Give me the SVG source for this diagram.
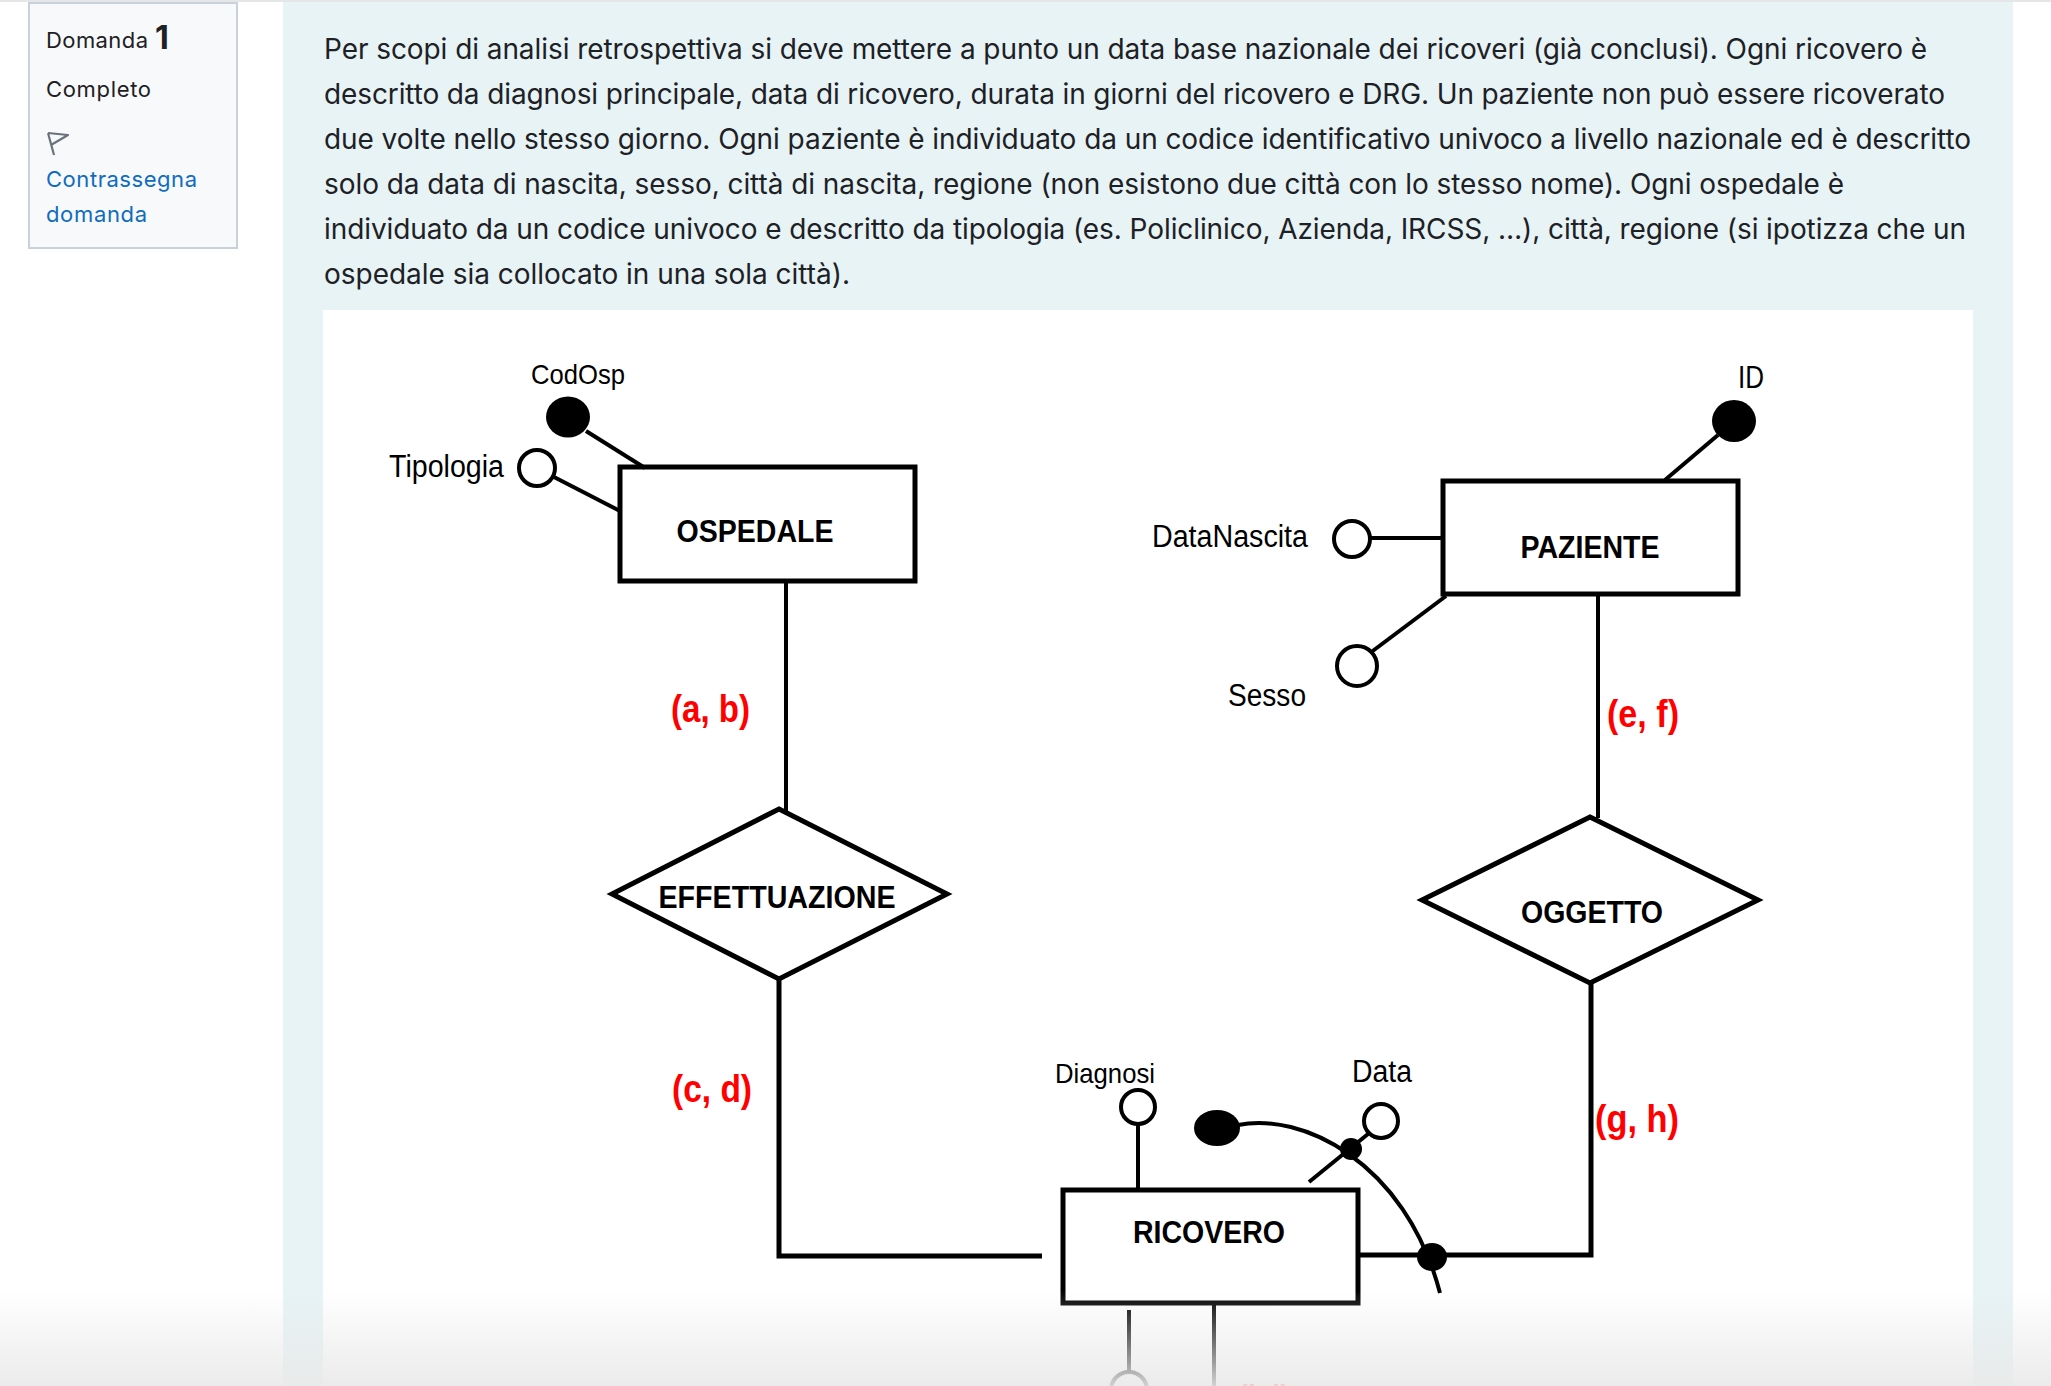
<svg xmlns="http://www.w3.org/2000/svg" width="2051" height="1386" viewBox="0 0 2051 1386">
<style>
.ui{font-family:Inter,"Open Sans","Liberation Sans",sans-serif;fill:#1d2125}
.para{font-family:Inter,"Liberation Sans",sans-serif;font-size:28px;fill:#1d2125}
.ent{fill:none;stroke:#000;stroke-width:5}
.rel{fill:#fff;stroke:#000;stroke-width:5;stroke-linejoin:miter}
.lbl{font-family:"Liberation Sans",Arial,sans-serif;font-weight:bold;font-size:32px;fill:#000;text-anchor:middle}
.att{font-family:"Liberation Sans",Arial,sans-serif;font-size:31px;fill:#000}
.att2{font-family:"Liberation Sans",Arial,sans-serif;font-size:28px;fill:#000}
.card{font-family:"Liberation Sans",Arial,sans-serif;font-weight:bold;font-size:38px;fill:#ff0000}
.ln{fill:none;stroke:#000;stroke-width:4}
.oc{fill:#fff;stroke:#000;stroke-width:4}
.fc{fill:#000;stroke:none}
</style>
<defs>
<linearGradient id="fade" x1="0" y1="0" x2="0" y2="1">
<stop offset="0" stop-color="#e9e9e9" stop-opacity="0"/>
<stop offset="1" stop-color="#e9e9e9" stop-opacity="0.9"/>
</linearGradient>
</defs>
<rect x="0" y="0" width="2051" height="1386" fill="#ffffff"/>
<rect x="283" y="2" width="1730" height="1384" fill="#e7f3f5"/>
<rect x="0" y="0" width="2051" height="2" fill="#e4e6e8"/>
<rect x="323" y="310" width="1650" height="1076" fill="#ffffff"/>

<g id="sidebar">
<rect x="29" y="3" width="208" height="245" fill="#f8f9fa" stroke="#c9d1db" stroke-width="2"/>
<text class="ui" x="46" y="48" font-size="22" textLength="102">Domanda</text>
<text class="ui" x="155" y="49" font-size="32" font-weight="bold">1</text>
<text class="ui" x="46" y="97" font-size="22" textLength="105">Completo</text>
<path d="M48 133 L54 155 M48 133 L68 135 L51 145" fill="none" stroke="#6a737b" stroke-width="2.2" stroke-linejoin="round"/>
<text class="ui" x="46" y="187" font-size="22" style="fill:#0f6cbf" textLength="151">Contrassegna</text>
<text class="ui" x="46" y="222" font-size="22" style="fill:#0f6cbf" textLength="101">domanda</text>
</g>

<g id="question-text">
<text class="para" x="324" y="59" textLength="1603">Per scopi di analisi retrospettiva si deve mettere a punto un data base nazionale dei ricoveri (già conclusi). Ogni ricovero è</text>
<text class="para" x="324" y="104" textLength="1621">descritto da diagnosi principale, data di ricovero, durata in giorni del ricovero e DRG. Un paziente non può essere ricoverato</text>
<text class="para" x="324" y="149" textLength="1647">due volte nello stesso giorno. Ogni paziente è individuato da un codice identificativo univoco a livello nazionale ed è descritto</text>
<text class="para" x="324" y="194" textLength="1520">solo da data di nascita, sesso, città di nascita, regione (non esistono due città con lo stesso nome). Ogni ospedale è</text>
<text class="para" x="324" y="239" textLength="1642">individuato da un codice univoco e descritto da tipologia (es. Policlinico, Azienda, IRCSS, …), città, regione (si ipotizza che un</text>
<text class="para" x="324" y="284" textLength="526">ospedale sia collocato in una sola città).</text>
</g>

<g id="connectors">
<line class="ln" x1="586" y1="431" x2="645" y2="468"/>
<line class="ln" x1="554" y1="477" x2="620" y2="511"/>
<line class="ln" x1="786" y1="582" x2="786" y2="812"/>
<polyline class="ln" points="779,979 779,1256 1042,1256" style="stroke-width:5"/>
<line class="ln" x1="1598" y1="594" x2="1598" y2="818"/>
<polyline class="ln" points="1591,983 1591,1255 1359,1255" style="stroke-width:5"/>
<line class="ln" x1="1718" y1="435" x2="1665" y2="480"/>
<line class="ln" x1="1371" y1="538" x2="1443" y2="538"/>
<line class="ln" x1="1370" y1="653" x2="1446" y2="596"/>
<line class="ln" x1="1138" y1="1124" x2="1138" y2="1188"/>
<line class="ln" x1="1309" y1="1182" x2="1368" y2="1134"/>
<path class="ln" d="M1238 1125 C1300 1112 1405 1160 1440 1293"/>
<line class="ln" x1="1129" y1="1310" x2="1129" y2="1372"/>
<line class="ln" x1="1214" y1="1303" x2="1214" y2="1400"/>
</g>

<g id="ospedale">
<rect class="ent" x="620" y="467" width="295" height="114"/>
<text class="lbl" x="755" y="542" textLength="157" lengthAdjust="spacingAndGlyphs">OSPEDALE</text>
</g>
<g id="attr-codosp">
<ellipse class="fc" cx="568" cy="417" rx="22" ry="20.5"/>
<text class="att2" x="531" y="384" textLength="94" lengthAdjust="spacingAndGlyphs">CodOsp</text>
</g>
<g id="attr-tipologia">
<circle class="oc" cx="537" cy="468" r="18"/>
<text class="att" x="389" y="477" textLength="115" lengthAdjust="spacingAndGlyphs">Tipologia</text>
</g>

<g id="paziente">
<rect class="ent" x="1443" y="481" width="295" height="113"/>
<text class="lbl" x="1590" y="558" textLength="139" lengthAdjust="spacingAndGlyphs">PAZIENTE</text>
</g>
<g id="attr-id">
<ellipse class="fc" cx="1734" cy="421" rx="22" ry="21"/>
<text class="att" x="1738" y="388" textLength="26" lengthAdjust="spacingAndGlyphs">ID</text>
</g>
<g id="attr-datanascita">
<circle class="oc" cx="1352" cy="539" r="18"/>
<text class="att" x="1152" y="547" textLength="156" lengthAdjust="spacingAndGlyphs">DataNascita</text>
</g>
<g id="attr-sesso">
<circle class="oc" cx="1357" cy="666" r="20"/>
<text class="att" x="1228" y="706" textLength="78" lengthAdjust="spacingAndGlyphs">Sesso</text>
</g>

<g id="effettuazione">
<polygon class="rel" points="779,809 947,894 779,979 612,894"/>
<text class="lbl" x="777" y="908" textLength="237" lengthAdjust="spacingAndGlyphs">EFFETTUAZIONE</text>
</g>
<g id="oggetto">
<polygon class="rel" points="1590,817 1758,900 1590,983 1422,900"/>
<text class="lbl" x="1592" y="923" textLength="142" lengthAdjust="spacingAndGlyphs">OGGETTO</text>
</g>

<g id="ricovero">
<rect class="ent" x="1063" y="1190" width="295" height="113"/>
<text class="lbl" x="1209" y="1243" textLength="152" lengthAdjust="spacingAndGlyphs">RICOVERO</text>
</g>
<g id="attr-diagnosi">
<circle class="oc" cx="1138" cy="1107" r="17"/>
<text class="att2" x="1055" y="1083" textLength="100" lengthAdjust="spacingAndGlyphs">Diagnosi</text>
</g>
<g id="attr-data">
<circle class="oc" cx="1381" cy="1121" r="17"/>
<text class="att" x="1352" y="1082" textLength="60" lengthAdjust="spacingAndGlyphs">Data</text>
</g>
<g id="identifier">
<ellipse class="fc" cx="1217" cy="1128" rx="23" ry="18"/>
<circle class="fc" cx="1351" cy="1149" r="11"/>
<ellipse class="fc" cx="1432" cy="1257" rx="15" ry="14"/>
</g>
<g id="attr-bottom">
<circle class="oc" cx="1129" cy="1390" r="18"/>
</g>

<g id="cardinalities">
<text class="card" x="671" y="722" textLength="79" lengthAdjust="spacingAndGlyphs">(a, b)</text>
<text class="card" x="672" y="1102" textLength="80" lengthAdjust="spacingAndGlyphs">(c, d)</text>
<text class="card" x="1607" y="727" textLength="72" lengthAdjust="spacingAndGlyphs">(e, f)</text>
<text class="card" x="1595" y="1132" textLength="84" lengthAdjust="spacingAndGlyphs">(g, h)</text>
<text class="card" x="1238" y="1412" textLength="52" lengthAdjust="spacingAndGlyphs">(i, j)</text>
</g>

<rect x="0" y="1290" width="2051" height="96" fill="url(#fade)"/>
</svg>
